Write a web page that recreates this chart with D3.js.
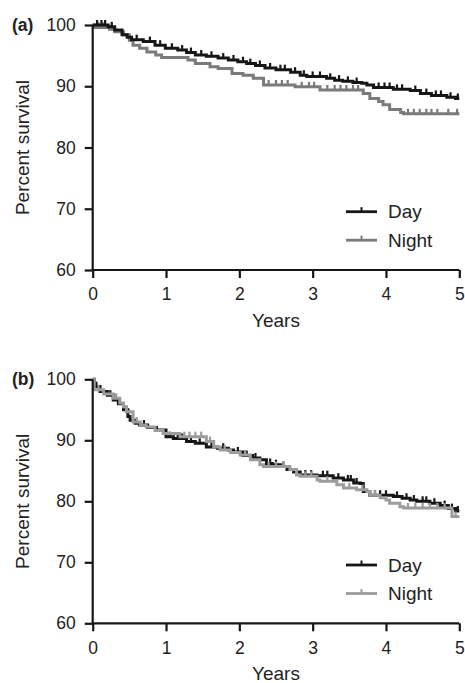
<!DOCTYPE html>
<html>
<head>
<meta charset="utf-8">
<script src="https://cdn.jsdelivr.net/npm/d3@7/dist/d3.min.js"></script>
<style>
  html, body { margin: 0; padding: 0; background: #fff; }
  svg { display: block; font-family: "Liberation Sans", Arial, sans-serif; }
</style>
</head>
<body>
<svg id="chart" width="465" height="683"></svg>
<script>
// ---------- data ----------
const xTicks = [0, 1, 2, 3, 4, 5];
const yTicks = [60, 70, 80, 90, 100];
const seriesNames = ["Day", "Night"];
const panelLabels = ["(a)", "(b)"];

// Panel (a) Kaplan-Meier step curves
const dayA_t = [0, 0.21, 0.30, 0.40, 0.47, 0.53, 0.69, 0.85, 0.99, 1.16, 1.28, 1.40, 1.55, 1.71, 1.85, 1.98, 2.10, 2.22, 2.35, 2.50, 2.70, 2.83, 2.92, 3.19, 3.30, 3.41, 3.55, 3.67, 3.74, 3.83, 4.10, 4.33, 4.47, 4.62, 4.83, 4.95, 5.0];
const dayA_v = [100, 99.7, 99.2, 98.4, 98.0, 97.6, 97.3, 96.7, 96.2, 95.9, 95.5, 95.1, 94.9, 94.6, 94.3, 94.0, 93.7, 93.4, 93.0, 92.7, 92.3, 91.8, 91.6, 91.3, 91.0, 90.8, 90.6, 90.5, 90.2, 89.8, 89.5, 89.3, 88.8, 88.5, 88.2, 88.0, 88.0];
const nightA_t = [0, 0.02, 0.23, 0.30, 0.42, 0.50, 0.55, 0.64, 0.74, 0.86, 0.94, 1.30, 1.40, 1.60, 1.71, 1.90, 2.05, 2.19, 2.33, 2.76, 3.10, 3.69, 3.78, 3.90, 3.96, 4.05, 4.20, 4.24, 5.0];
const nightA_v = [100, 99.6, 99.3, 98.9, 98.4, 97.5, 96.7, 96.2, 95.6, 95.1, 94.7, 94.3, 93.7, 93.2, 92.9, 92.1, 91.8, 91.3, 90.2, 89.9, 89.4, 88.8, 88.0, 87.5, 87.0, 86.2, 85.7, 85.5, 85.5];
const dayA_cens = [0.06, 0.12, 0.17, 0.26, 0.60, 0.78, 0.92, 1.08, 1.22, 1.34, 1.48, 1.62, 1.78, 1.92, 2.05, 2.15, 2.28, 2.42, 2.56, 2.62, 2.76, 2.88, 3.00, 3.10, 3.24, 3.36, 3.48, 3.60, 3.90, 3.98, 4.05, 4.15, 4.22, 4.40, 4.55, 4.68, 4.75, 4.88, 4.98];
const nightA_cens = [0.08, 0.15, 2.40, 2.50, 2.58, 2.66, 2.85, 2.95, 3.02, 3.20, 3.30, 3.38, 3.46, 3.55, 3.62, 4.30, 4.38, 4.46, 4.55, 4.62, 4.70, 4.85, 4.97];

// Panel (b) Kaplan-Meier step curves
const dayB_t = [0, 0.02, 0.10, 0.20, 0.28, 0.35, 0.42, 0.48, 0.51, 0.58, 0.64, 0.75, 0.87, 1.00, 1.10, 1.28, 1.40, 1.55, 1.70, 1.85, 1.92, 2.05, 2.18, 2.28, 2.37, 2.45, 2.56, 2.65, 2.74, 2.83, 3.06, 3.28, 3.42, 3.56, 3.65, 3.69, 3.78, 4.10, 4.22, 4.33, 4.42, 4.60, 4.74, 4.85, 4.95, 5.0];
const dayB_v = [100, 98.8, 98.0, 97.4, 96.6, 96.0, 95.0, 93.9, 93.3, 92.8, 92.5, 92.1, 91.7, 90.6, 90.3, 89.8, 89.5, 88.9, 88.7, 88.4, 88.1, 87.5, 87.1, 86.8, 86.2, 86.0, 85.7, 85.2, 84.8, 84.3, 84.2, 83.8, 83.5, 83.0, 82.9, 81.6, 81.0, 80.8, 80.5, 80.2, 80.0, 79.7, 79.3, 78.8, 78.4, 78.4];
const nightB_t = [0, 0.02, 0.15, 0.28, 0.37, 0.42, 0.46, 0.55, 0.65, 0.73, 0.85, 0.96, 1.19, 1.55, 1.65, 1.74, 1.88, 2.01, 2.15, 2.28, 2.33, 2.69, 2.78, 2.83, 3.06, 3.10, 3.33, 3.42, 3.60, 3.74, 3.78, 3.92, 4.00, 4.05, 4.19, 4.24, 4.90, 5.0];
const nightB_v = [100, 98.3, 97.6, 96.9, 96.1, 95.5, 94.7, 93.0, 92.5, 92.2, 91.6, 91.1, 90.6, 89.8, 88.9, 88.4, 88.0, 87.6, 86.8, 86.0, 85.7, 85.2, 84.3, 84.1, 83.5, 83.3, 82.7, 82.2, 81.9, 81.6, 81.0, 80.6, 80.2, 79.7, 79.1, 78.9, 77.5, 77.5];
const dayB_cens = [0.05, 0.24, 0.70, 1.05, 1.16, 1.22, 1.34, 1.46, 1.62, 1.78, 1.98, 2.10, 2.22, 2.42, 2.50, 2.60, 2.90, 2.98, 3.14, 3.20, 3.35, 3.48, 3.52, 3.60, 3.85, 3.92, 4.00, 4.15, 4.28, 4.38, 4.50, 4.55, 4.66, 4.80, 4.90, 4.98];
const nightB_cens = [0.08, 0.32, 0.60, 1.25, 1.32, 1.40, 1.48, 1.60, 1.80, 2.08, 2.40, 2.50, 2.60, 2.90, 2.98, 3.20, 3.50, 3.68, 3.85, 4.30, 4.40, 4.50, 4.60, 4.70, 4.80, 4.95];

// ---------- drawing ----------
const svg = d3.select("#chart");
const X0 = 92.7, X1 = 459.3;

const panels = [
  { label: panelLabels[0], top: 25, bottom: 270,
    series: [
      { name: seriesNames[0], t: dayA_t, v: dayA_v, c: dayA_cens, color: "#161616" },
      { name: seriesNames[1], t: nightA_t, v: nightA_v, c: nightA_cens, color: "#7a7a7a" }
    ] },
  { label: panelLabels[1], top: 379.3, bottom: 623.3,
    series: [
      { name: seriesNames[0], t: dayB_t, v: dayB_v, c: dayB_cens, color: "#161616" },
      { name: seriesNames[1], t: nightB_t, v: nightB_v, c: nightB_cens, color: "#9c9c9c" }
    ] }
];

panels.forEach(p => {
  const x = d3.scaleLinear().domain([0, 5]).range([X0, X1]);
  const y = d3.scaleLinear().domain([60, 100]).range([p.bottom, p.top]);
  const g = svg.append("g");

  const line = d3.line().curve(d3.curveStepAfter).x(d => x(d[0])).y(d => y(d[1]));
  const order = p.label === "(a)" ? [1, 0] : [0, 1];
  order.forEach(i => {
    const s = p.series[i];
    const pts = s.t.map((t, k) => [t, s.v[k]]);
    g.append("path").datum(pts)
      .attr("fill", "none").attr("stroke", s.color).attr("stroke-width", 3)
      .attr("d", line);
    const bis = d3.bisector(d => d).right;
    g.append("g").selectAll("line").data(s.c).join("line")
      .attr("x1", d => x(d)).attr("x2", d => x(d))
      .attr("y1", d => y(s.v[Math.max(0, bis(s.t, d) - 1)]))
      .attr("y2", d => y(s.v[Math.max(0, bis(s.t, d) - 1)]) - 5)
      .attr("stroke", s.color).attr("stroke-width", 2.2);
  });

  // axes
  const xAxis = d3.axisBottom(x).tickValues(xTicks).tickSize(8).tickPadding(10).tickFormat(d3.format("d"));
  const yAxis = d3.axisLeft(y).tickValues(yTicks).tickSize(8).tickPadding(9).tickFormat(d3.format("d"));
  const gx = g.append("g").attr("transform", `translate(0,${p.bottom})`).call(xAxis);
  const gy = g.append("g").attr("transform", `translate(${X0},0)`).call(yAxis);
  [gx, gy].forEach(a => {
    a.select(".domain").attr("stroke", "#161616").attr("stroke-width", 2.2);
    a.selectAll(".tick line").attr("stroke", "#161616").attr("stroke-width", 2.2);
    a.selectAll(".tick text").attr("fill", "#222").style("font-size", "17.5px")
      .style("font-family", '"Liberation Sans", Arial, sans-serif');
  });
  gx.select(".domain").attr("d", `M${X0},0H${X1}`);
  gy.select(".domain").attr("d", `M0,${p.bottom}V${p.top}`);

  // axis titles
  g.append("text").attr("x", (X0 + X1) / 2).attr("y", p.bottom + 50.5)
    .attr("text-anchor", "middle").attr("dominant-baseline", "central")
    .style("font-size", "19px").attr("fill", "#222").text("Years");
  g.append("text")
    .attr("transform", `translate(22,${(p.top + p.bottom) / 2}) rotate(-90)`)
    .attr("text-anchor", "middle").attr("dominant-baseline", "central")
    .style("font-size", "19px").attr("fill", "#222").text("Percent survival");
  g.append("text").attr("x", 12).attr("y", p.top)
    .attr("dominant-baseline", "central").style("font-size", "17.5px")
    .style("font-weight", "bold").attr("fill", "#222").text(p.label);

  // legend
  p.series.forEach((s, i) => {
    const ly = p.bottom - 58.3 + i * 28.5;
    g.append("line").attr("x1", 346).attr("x2", 377).attr("y1", ly).attr("y2", ly)
      .attr("stroke", s.color).attr("stroke-width", 2.8);
    g.append("line").attr("x1", 361.5).attr("x2", 361.5).attr("y1", ly).attr("y2", ly - 4.5)
      .attr("stroke", s.color).attr("stroke-width", 2);
    g.append("text").attr("x", 388).attr("y", ly).attr("dominant-baseline", "central")
      .style("font-size", "19px").attr("fill", "#222").text(s.name);
  });
});
</script>
</body>
</html>
